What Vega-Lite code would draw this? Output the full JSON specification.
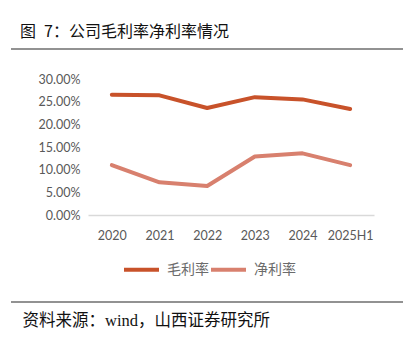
{
  "$schema": "https://vega.github.io/schema/vega-lite/v6.json",
  "autosize": "none",
  "width": 286,
  "height": 136,
  "padding": {"left": 88, "top": 79, "right": 35, "bottom": 128},
  "background": "white",
  "title": {
    "text": "图\u20027：公司毛利率净利率情况",
    "anchor": "start",
    "frame": "group",
    "dx": -68,
    "offset": 8,
    "font": "Noto Sans CJK SC",
    "fontSize": 16,
    "fontWeight": "normal",
    "color": "#111111"
  },
  "config": {
    "view": {"stroke": null},
    "axis": {"labelFont": "Lato", "labelColor": "#595959", "labelFontSize": 12.5, "ticks": false, "grid": false}
  },
  "datasets": {
    "margins": [
      {"year": "2020", "series": "毛利率", "value": 0.265},
      {"year": "2021", "series": "毛利率", "value": 0.264},
      {"year": "2022", "series": "毛利率", "value": 0.236},
      {"year": "2023", "series": "毛利率", "value": 0.260},
      {"year": "2024", "series": "毛利率", "value": 0.255},
      {"year": "2025H1", "series": "毛利率", "value": 0.234},
      {"year": "2020", "series": "净利率", "value": 0.110},
      {"year": "2021", "series": "净利率", "value": 0.072},
      {"year": "2022", "series": "净利率", "value": 0.064},
      {"year": "2023", "series": "净利率", "value": 0.129},
      {"year": "2024", "series": "净利率", "value": 0.136},
      {"year": "2025H1", "series": "净利率", "value": 0.110}
    ],
    "frame": [{"a": 1}]
  },
  "layer": [
    {
      "data": {"name": "margins"},
      "mark": {"type": "line", "strokeWidth": 4, "strokeCap": "round", "strokeJoin": "round"},
      "encoding": {
        "x": {
          "field": "year", "type": "ordinal", "sort": null,
          "axis": {
            "labelAngle": 0,
            "labelPadding": 14,
            "domainColor": "#D9D9D9",
            "domainWidth": 1.5,
            "title": "资料来源：wind，山西证券研究所",
            "titleFont": "Liberation Serif, Noto Sans CJK SC",
            "titleFontSize": 16.5,
            "titleFontWeight": "normal",
            "titleColor": "#111111",
            "titleAnchor": "start",
            "titleAlign": "left",
            "titleBaseline": "middle",
            "titleX": -66,
            "titleY": 105
          }
        },
        "y": {
          "field": "value", "type": "quantitative",
          "scale": {"domain": [0, 0.3], "nice": false},
          "axis": {"format": ".2%", "values": [0, 0.05, 0.1, 0.15, 0.2, 0.25, 0.3], "domain": false, "labelPadding": 8, "title": null}
        },
        "color": {
          "field": "series", "type": "nominal",
          "scale": {"domain": ["毛利率", "净利率"], "range": ["#C8522A", "#D8806E"]},
          "legend": {
            "title": null,
            "orient": "none",
            "direction": "horizontal",
            "legendX": 34,
            "legendY": 171,
            "padding": 0,
            "symbolType": "stroke",
            "symbolSize": 1225,
            "symbolStrokeWidth": 4,
            "labelFont": "Noto Sans CJK SC",
            "labelFontSize": 14,
            "labelColor": "#6B6B6B",
            "labelOffset": 6,
            "columnPadding": -10
          }
        }
      }
    },
    {
      "data": {"name": "frame"},
      "mark": {"type": "rule", "color": "#6E6E6E", "strokeWidth": 1.3},
      "encoding": {
        "x": {"value": -77},
        "x2": {"value": 315},
        "y": {"value": -30}
      }
    },
    {
      "data": {"name": "frame"},
      "mark": {"type": "rule", "color": "#6E6E6E", "strokeWidth": 1.3},
      "encoding": {
        "x": {"value": -77},
        "x2": {"value": 315},
        "y": {"value": 223}
      }
    }
  ]
}
